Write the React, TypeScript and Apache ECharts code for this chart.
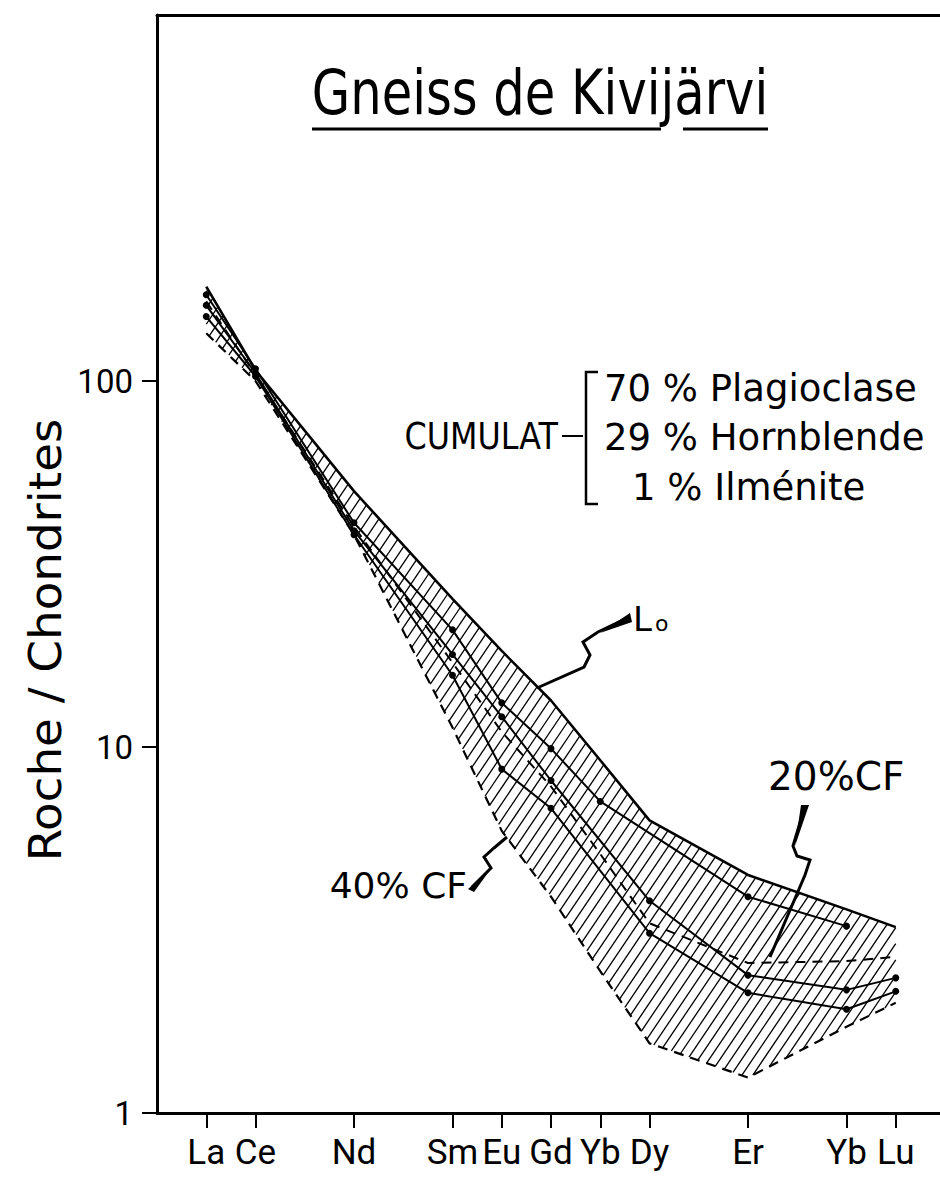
import React, { useEffect, useRef } from 'react';
import * as echarts from 'echarts';

// Rare-earth elements (label shown) and their atomic number (x position)
const elementLabels = ['La', 'Ce', 'Nd', 'Sm', 'Eu', 'Gd', 'Yb', 'Dy', 'Er', 'Yb', 'Lu'];
const atomicNumbers = [57, 58, 60, 62, 63, 64, 65, 66, 68, 70, 71];
const yTickValues = [1, 10, 100];

// Samples (Roche / Chondrites)
const sampleA = [172, 108, 41, 20.9, 13.2, 9.9, 7.1, null, 3.9, 3.24, null];
const sampleB = [161, 105, 39, 17.9, 12.1, 8.1, null, 3.8, 2.38, 2.17, 2.34];
const sampleC = [150, 103, 38, 15.7, 8.7, 6.8, null, 3.1, 2.13, 1.92, 2.15];

// Model curves
const liquidLo = [181, 107, 50, 25.4, 18.3, 13.4, 9.2, 6.3, 4.47, 3.6, 3.22];
const cf20 = [165, 104, 40, 17, 11, 7.8, 5.1, 3.3, 2.57, 2.6, 2.67];
const cf40 = [135, 100, 38, 11.3, 5.9, 3.9, 2.44, 1.55, 1.25, 1.72, 2.0];

const FONT = '"DejaVu Sans", sans-serif';
const NARROW = 'Roboto, "Liberation Sans", sans-serif';

function pairs(vals: (number | null)[]) {
  const out: [number, number][] = [];
  vals.forEach((v, i) => {
    if (v !== null) out.push([atomicNumbers[i], v]);
  });
  return out;
}

export default function App() {
  const ref = useRef<HTMLDivElement>(null);
  useEffect(() => {
    document.documentElement.style.overflow = 'hidden';
    document.body.style.overflow = 'hidden';
    document.body.style.margin = '0';
    if (!ref.current) return;
    const chart = echarts.init(ref.current, null, { renderer: 'svg' });

    const hatchRender = (params: any, api: any) => {
      const up = atomicNumbers.map((x, i) => api.coord([x, liquidLo[i]]));
      const lo = atomicNumbers.map((x, i) => api.coord([x, cf40[i]]));
      const poly = [...up, ...lo.slice().reverse()];
      const a = (56 * Math.PI) / 180;
      const nx = Math.sin(a), ny = Math.cos(a);
      const dx = Math.cos(a), dy = -Math.sin(a);
      const cs = poly.map((p: number[]) => p[0] * nx + p[1] * ny);
      const cmin = Math.min(...cs), cmax = Math.max(...cs);
      const children: any[] = [];
      for (let c = cmin + 3; c < cmax; c += 9) {
        const pts: number[][] = [];
        for (let i = 0; i < poly.length; i++) {
          const p1 = poly[i], p2 = poly[(i + 1) % poly.length];
          const s1 = p1[0] * nx + p1[1] * ny - c;
          const s2 = p2[0] * nx + p2[1] * ny - c;
          if ((s1 < 0) !== (s2 < 0)) {
            const t = s1 / (s1 - s2);
            const x = p1[0] + t * (p2[0] - p1[0]);
            const y = p1[1] + t * (p2[1] - p1[1]);
            pts.push([x, y, x * dx + y * dy]);
          }
        }
        pts.sort((u, v) => u[2] - v[2]);
        for (let k = 0; k + 1 < pts.length; k += 2) {
          children.push({
            type: 'line',
            shape: { x1: pts[k][0], y1: pts[k][1], x2: pts[k + 1][0], y2: pts[k + 1][1] },
            style: { stroke: '#000', lineWidth: 1.3 },
          });
        }
      }
      return { type: 'group', children };
    };

    const lineStyleSample = { color: '#000', width: 2 };

    const option: any = {
      animation: false,
      backgroundColor: '#fff',
      grid: { left: 157, top: 15, width: 788, height: 1098, show: false },
      xAxis: [
        {
          type: 'value',
          min: 56,
          max: 72,
          splitLine: { show: false },
          axisLine: { onZero: false, lineStyle: { color: '#000', width: 3 } },
          axisTick: { customValues: atomicNumbers, length: 15, lineStyle: { color: '#000', width: 2 } },
          axisLabel: {
            customValues: atomicNumbers,
            formatter: (v: number) => elementLabels[atomicNumbers.indexOf(v)] ?? '',
            color: '#000',
            fontSize: 35,
            fontFamily: NARROW,
            margin: 22,
          },
        },
        {
          type: 'value',
          position: 'top',
          min: 56,
          max: 72,
          splitLine: { show: false },
          axisLine: { onZero: false, lineStyle: { color: '#000', width: 3 } },
          axisTick: { show: false },
          axisLabel: { show: false },
        },
      ],
      yAxis: {
        type: 'log',
        logBase: 10,
        min: 1,
        max: 1000,
        position: 'left',
        splitLine: { show: false },
        axisLine: { onZero: false, lineStyle: { color: '#000', width: 3 } },
        axisTick: { customValues: yTickValues, length: 15, lineStyle: { color: '#000', width: 2 } },
        axisLabel: {
          customValues: yTickValues,
          formatter: (v: number) => String(v),
          color: '#000',
          fontSize: 33,
          fontFamily: NARROW,
          margin: 24,
        },
      },
      series: [
        {
          type: 'custom',
          name: 'hatch',
          renderItem: hatchRender,
          data: [[57, 100]],
          encode: { x: 0, y: 1 },
          silent: true,
          z: 1,
        },
        {
          type: 'line', name: 'Lo', data: pairs(liquidLo), symbol: 'none',
          lineStyle: { color: '#000', width: 2.6 }, z: 3,
        },
        {
          type: 'line', name: '40% CF', data: pairs(cf40), symbol: 'none',
          lineStyle: { color: '#000', width: 2.2, type: [10, 7] }, z: 3,
        },
        {
          type: 'line', name: '20% CF', data: pairs(cf20), symbol: 'none',
          lineStyle: { color: '#000', width: 2, type: [10, 7] }, z: 3,
        },
        ...[sampleA, sampleB, sampleC].map((s, i) => ({
          type: 'line', name: 'sample' + i, data: pairs(s), symbol: 'circle', symbolSize: 7,
          itemStyle: { color: '#000' }, lineStyle: lineStyleSample, z: 4,
        })),
      ],
      graphic: [
        {
          type: 'text', x: 540, y: 92, scaleX: 0.8,
          style: { text: 'Gneiss de Kivijärvi', fontSize: 62, fontFamily: FONT, fill: '#000', align: 'center', verticalAlign: 'middle' },
        },
        { type: 'line', shape: { x1: 312, y1: 129, x2: 661, y2: 129 }, style: { stroke: '#000', lineWidth: 3 } },
        { type: 'line', shape: { x1: 683, y1: 129, x2: 768, y2: 129 }, style: { stroke: '#000', lineWidth: 3 } },
        {
          type: 'text', x: 45, y: 640, rotation: Math.PI / 2, scaleX: 1.04,
          style: { text: 'Roche / Chondrites', fontSize: 45, fontFamily: FONT, fill: '#000', align: 'center', verticalAlign: 'middle' },
        },
        {
          type: 'text', x: 558, y: 436, scaleX: 0.86,
          style: { text: 'CUMULAT', fontSize: 37, fontFamily: FONT, fill: '#000', align: 'right', verticalAlign: 'middle' },
        },
        { type: 'line', shape: { x1: 562, y1: 436, x2: 583, y2: 436 }, style: { stroke: '#000', lineWidth: 2 } },
        { type: 'polyline', shape: { points: [[598, 372], [586, 372], [586, 504], [598, 504]] }, style: { stroke: '#000', lineWidth: 2.5, fill: 'none' } },
        {
          type: 'text', x: 604, y: 388,
          style: { text: '70 % Plagioclase', fontSize: 37, fontFamily: FONT, fill: '#000', align: 'left', verticalAlign: 'middle' },
        },
        {
          type: 'text', x: 604, y: 437,
          style: { text: '29 % Hornblende', fontSize: 37, fontFamily: FONT, fill: '#000', align: 'left', verticalAlign: 'middle' },
        },
        {
          type: 'text', x: 632, y: 487,
          style: { text: '1 % Ilménite', fontSize: 37, fontFamily: FONT, fill: '#000', align: 'left', verticalAlign: 'middle' },
        },
        // Lo label and arrow
        {
          type: 'text', x: 633, y: 636,
          style: { text: 'L', fontSize: 34, fontFamily: FONT, fill: '#000', align: 'left', verticalAlign: 'bottom' },
        },
        {
          type: 'text', x: 655, y: 634,
          style: { text: 'o', fontSize: 22, fontFamily: FONT, fill: '#000', align: 'left', verticalAlign: 'bottom' },
        },
        { type: 'polyline', shape: { points: [[627, 618], [598, 632], [583, 642], [590, 655], [584, 667], [537, 688]] }, style: { stroke: '#000', lineWidth: 3, fill: 'none' } },
        { type: 'polygon', shape: { points: [[630, 613], [632, 622], [600, 633]] }, style: { fill: '#000' } },
        // 40% CF label and arrow
        {
          type: 'text', x: 467, y: 885,
          style: { text: '40% CF', fontSize: 36, fontFamily: FONT, fill: '#000', align: 'right', verticalAlign: 'middle' },
        },
        { type: 'polyline', shape: { points: [[472, 887], [491, 868], [484, 857], [494, 848], [507, 837]] }, style: { stroke: '#000', lineWidth: 3, fill: 'none' } },
        { type: 'polygon', shape: { points: [[468, 889], [474, 892], [490, 870]] }, style: { fill: '#000' } },
        // 20% CF label and arrow
        {
          type: 'text', x: 768, y: 776,
          style: { text: '20%CF', fontSize: 39, fontFamily: FONT, fill: '#000', align: 'left', verticalAlign: 'middle' },
        },
        { type: 'polyline', shape: { points: [[805, 806], [793, 846], [797, 856], [810, 860], [805, 875], [770, 957]] }, style: { stroke: '#000', lineWidth: 3, fill: 'none' } },
        { type: 'polygon', shape: { points: [[801, 805], [809, 805], [795, 846]] }, style: { fill: '#000' } },
        // keep the open right side of the frame blank
        { type: 'rect', z: 100, shape: { x: 930, y: 18, width: 40, height: 1092 }, style: { fill: '#fff' } },
      ],
    };

    chart.setOption(option);
    return () => chart.dispose();
  }, []);

  return (
    <div style={{ position: 'fixed', left: 0, top: 0, width: 940, height: 1177, overflow: 'hidden', background: '#fff' }}>
      <div ref={ref} style={{ width: 970, height: 1177 }} />
    </div>
  );
}
